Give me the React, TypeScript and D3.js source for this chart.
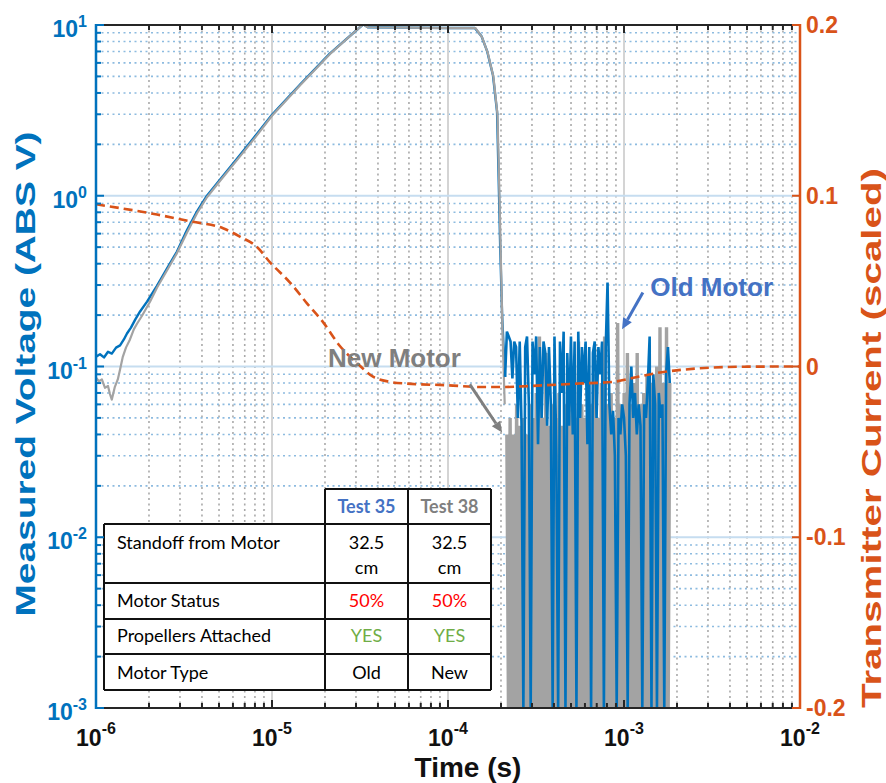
import React from "react";
import * as d3 from "d3";

const BLUE = "#0072BD";
const ORANGE = "#D95319";
const GRAY = "#A3A3A3";
const LABEL_BLUE = "#4472C4";
const LABEL_GRAY = "#7F7F7F";
const AXIS_FONT = "'Liberation Sans', Arial, Helvetica, sans-serif";
const TABLE_FONT = "Lato, 'Open Sans', sans-serif";

// Axis tick definitions
const xTickExps = [-6, -5, -4, -3, -2];
const yTickExps = [-3, -2, -1, 0, 1];
const y2Ticks = [-0.2, -0.1, 0, 0.1, 0.2];
const y2TickLabels = ["-0.2", "-0.1", "0", "0.1", "0.2"];

// Old motor (Test 35), smooth part: [time s, |V|]
const oldMotorSmooth: [number, number][] = [
  [1.0e-6, 0.114], [1.054e-6, 0.118], [1.11e-6, 0.113], [1.17e-6, 0.122], [1.23e-6, 0.119],
  [1.3e-6, 0.129], [1.37e-6, 0.133], [1.44e-6, 0.144], [1.5e-6, 0.156], [1.58e-6, 0.169],
  [1.67e-6, 0.188], [1.78e-6, 0.21], [1.95e-6, 0.24], [2.22e-6, 0.297], [2.53e-6, 0.374],
  [2.88e-6, 0.47], [3.29e-6, 0.63], [3.75e-6, 0.81], [4.27e-6, 1.0], [5.06e-6, 1.24],
  [6.58e-6, 1.73], [8.1e-6, 2.26], [1.0e-5, 2.98], [1.44e-5, 4.47], [2.13e-5, 6.8],
  [3.3e-5, 10.1], [3.5e-5, 9.7], [6e-5, 9.65], [1.0e-4, 9.6], [1.42e-4, 9.6],
  [1.55e-4, 8.6], [1.67e-4, 7.0], [1.8e-4, 5.1], [1.9e-4, 3.1], [1.95e-4, 1.0],
  [1.98e-4, 0.5], [2.03e-4, 0.2], [2.07e-4, 0.13], [2.11e-4, 0.087],
];

// Old motor noisy tail, samples between these times
const oldNoiseStart = 2.11e-4;
const oldNoiseEnd = 1.82e-3;
const oldMotorNoise = [
  0.087, 0.16, 0.15, 0.14, 0.085, 0.14, 0.13, 0.05, 0.14, 0.045,
  0.001, 0.13, 0.15, 0.06, 0.001, 0.14, 0.09, 0.15, 0.035, 0.13,
  0.05, 0.14, 0.12, 0.045, 0.13, 0.06, 0.001, 0.15, 0.03, 0.001,
  0.14, 0.07, 0.16, 0.001, 0.12, 0.045, 0.15, 0.04, 0.14, 0.001,
  0.16, 0.05, 0.13, 0.08, 0.14, 0.035, 0.13, 0.001, 0.12, 0.14,
  0.05, 0.13, 0.09, 0.14, 0.001, 0.13, 0.31, 0.06, 0.04, 0.055,
  0.03, 0.001, 0.05, 0.04, 0.06, 0.05, 0.03, 0.001, 0.06, 0.1,
  0.05, 0.07, 0.04, 0.06, 0.045, 0.001, 0.06, 0.05, 0.08, 0.15,
  0.001, 0.09, 0.06, 0.001, 0.07, 0.05, 0.06, 0.001, 0.09, 0.13,
  0.08,
];

// New motor (Test 38), smooth part
const newMotorSmooth: [number, number][] = [
  [1.0e-6, 0.086], [1.04e-6, 0.082], [1.08e-6, 0.084], [1.125e-6, 0.075], [1.17e-6, 0.077],
  [1.2e-6, 0.069], [1.23e-6, 0.064], [1.28e-6, 0.076], [1.33e-6, 0.084], [1.37e-6, 0.096],
  [1.42e-6, 0.114], [1.48e-6, 0.129], [1.56e-6, 0.144], [1.64e-6, 0.165], [1.71e-6, 0.178],
  [1.83e-6, 0.199], [2.03e-6, 0.24], [2.22e-6, 0.289], [2.53e-6, 0.365], [2.88e-6, 0.46],
  [3.29e-6, 0.61], [3.75e-6, 0.79], [4.27e-6, 0.98], [5.06e-6, 1.22], [6.58e-6, 1.7],
  [8.1e-6, 2.22], [1.0e-5, 2.94], [1.44e-5, 4.42], [2.13e-5, 6.75], [3.3e-5, 10.1],
  [3.5e-5, 9.7], [6e-5, 9.65], [1.0e-4, 9.6], [1.43e-4, 9.6], [1.56e-4, 8.5],
  [1.68e-4, 6.9], [1.81e-4, 5.0], [1.91e-4, 3.0], [1.96e-4, 1.0], [1.99e-4, 0.5],
  [2.03e-4, 0.2], [2.05e-4, 0.135], [2.1e-4, 0.06],
];

const newNoiseStart = 2.16e-4;
const newNoiseEnd = 1.82e-3;
const newMotorNoise = [
  0.04, 0.0009, 0.05, 0.0009, 0.04, 0.0009, 0.06, 0.0009, 0.045, 0.0009,
  0.05, 0.0009, 0.04, 0.0009, 0.06, 0.0009, 0.05, 0.0009, 0.07, 0.0009,
  0.15, 0.0009, 0.05, 0.0009, 0.12, 0.0009, 0.045, 0.0009, 0.06, 0.0009,
  0.05, 0.0009, 0.07, 0.0009, 0.045, 0.0009, 0.06, 0.0009, 0.05, 0.0009,
  0.08, 0.0009, 0.05, 0.0009, 0.14, 0.0009, 0.06, 0.0009, 0.05, 0.0009,
  0.07, 0.0009, 0.06, 0.0009, 0.09, 0.0009, 0.05, 0.0009, 0.08, 0.0009,
  0.15, 0.0009, 0.06, 0.0009, 0.07, 0.0009, 0.05, 0.0009, 0.18, 0.0009,
  0.06, 0.0009, 0.07, 0.0009, 0.12, 0.0009, 0.06, 0.0009, 0.08, 0.0009,
  0.12, 0.0009, 0.06, 0.0009, 0.07, 0.0009, 0.09, 0.0009, 0.08, 0.0009,
  0.07, 0.0009, 0.1, 0.0009, 0.17, 0.0009, 0.08, 0.0009, 0.17, 0.0009,
  0.08,
];

// Transmitter current (scaled), right axis
const currentSeries: [number, number][] = [
  [1e-6, 0.095], [2.22e-6, 0.089], [3.42e-6, 0.085], [5.27e-6, 0.081], [6.58e-6, 0.076],
  [8.22e-6, 0.07], [9.75e-6, 0.061], [1.27e-5, 0.049], [1.58e-5, 0.037], [1.95e-5, 0.026],
  [2.43e-5, 0.012], [3.04e-5, 0.002], [3.75e-5, -0.006], [4.68e-5, -0.009], [5.85e-5, -0.01],
  [1.0e-4, -0.011], [1.52e-4, -0.012], [2.05e-4, -0.012], [3.5e-4, -0.011], [5.5e-4, -0.01],
  [8.66e-4, -0.009], [1.2e-3, -0.006], [1.6e-3, -0.0035], [2.2e-3, -0.0018], [3.2e-3, -0.0006],
  [5e-3, -0.0001], [1e-2, 0],
];

// Table content
const tableHeaders = ["Test 35", "Test 38"];
const tableRowLabels = ["Standoff from Motor", "Motor Status", "Propellers Attached", "Motor Type"];
const tableCol1 = [["32.5", "cm"], ["50%"], ["YES"], ["Old"]];
const tableCol2 = [["32.5", "cm"], ["50%"], ["YES"], ["New"]];

// Annotation anchors in data coordinates [time, V]
const oldLabelAt: [number, number] = [1.41e-3, 0.26];
const oldArrowFrom: [number, number] = [1.28e-3, 0.271];
const oldArrowTo: [number, number] = [9.75e-4, 0.165];
const newLabelAt: [number, number] = [2.08e-5, 0.1];
const newArrowFrom: [number, number] = [1.33e-4, 0.0785];
const newArrowTo: [number, number] = [2.03e-4, 0.041];

function spreadNoise(t0: number, t1: number, vals: number[]): [number, number][] {
  return vals.map((v, i) => [t0 * Math.pow(t1 / t0, i / (vals.length - 1)), v]);
}

function Arrow({ x1, y1, x2, y2, color }: any) {
  const ang = Math.atan2(y2 - y1, x2 - x1);
  const L = 11, Wd = 5;
  const bx = x2 - L * Math.cos(ang), by = y2 - L * Math.sin(ang);
  const px = -Math.sin(ang) * Wd, py = Math.cos(ang) * Wd;
  return (
    <g>
      <line x1={x1} y1={y1} x2={bx} y2={by} stroke={color} strokeWidth={3} />
      <polygon points={`${x2},${y2} ${bx + px},${by + py} ${bx - px},${by - py}`} fill={color} />
    </g>
  );
}

export default function App() {
  const L = 96, R = 800, T = 25, B = 708;
  const x = d3.scaleLog().domain([1e-6, 1e-2]).range([L, R]);
  const y = d3.scaleLog().domain([1e-3, 10]).range([B, T]);
  const y2 = d3.scaleLinear().domain([-0.2, 0.2]).range([B, T]);

  const line = d3
    .line<[number, number]>()
    .x((d) => x(d[0]))
    .y((d) => y(Math.max(d[1], 5e-4)));
  const currentLine = d3
    .line<[number, number]>()
    .x((d) => x(d[0]))
    .y((d) => y2(d[1]))
    .curve(d3.curveMonotoneX);

  const isMajor = (v: number) => Math.abs(Math.log10(v) - Math.round(Math.log10(v))) < 1e-6;
  const xTicks = x.ticks();
  const yTicks = y.ticks();

  const oldNoise = spreadNoise(oldNoiseStart, oldNoiseEnd, oldMotorNoise);
  const newNoise = spreadNoise(newNoiseStart, newNoiseEnd, newMotorNoise);

  const colX = [104, 325, 408, 491];
  const rowY = [489, 524, 583, 619, 654, 690];
  const cellColor = (r: number) => {
    if (r === 1) return "#FF0000";
    if (r === 2) return "#70AD47";
    return "#000";
  };

  return (
    <svg width={886} height={783} style={{ position: "absolute", left: 0, top: 0, background: "#fff" }}>
      <defs>
        <clipPath id="plot">
          <rect x={L} y={T} width={R - L} height={B - T} />
        </clipPath>
      </defs>
      <rect x={0} y={0} width={886} height={783} fill="#fff" />

      {/* grid */}
      <g>
        {xTicks.filter((t) => !isMajor(t)).map((t, i) => (
          <line key={"xm" + i} x1={x(t)} x2={x(t)} y1={T} y2={B} stroke="#A9A9A9" strokeWidth={1.6} strokeDasharray="2,3.5" />
        ))}
        {yTicks.filter((t) => !isMajor(t)).map((t, i) => (
          <line key={"ym" + i} x1={L} x2={R} y1={y(t)} y2={y(t)} stroke="#8DBBE0" strokeWidth={1.6} strokeDasharray="2,3.5" />
        ))}
        {xTicks.filter((t) => isMajor(t)).map((t, i) => (
          <line key={"xM" + i} x1={x(t)} x2={x(t)} y1={T} y2={B} stroke="#D4D4D4" strokeWidth={2} />
        ))}
        {yTicks.filter((t) => isMajor(t)).map((t, i) => (
          <line key={"yM" + i} x1={L} x2={R} y1={y(t)} y2={y(t)} stroke="#C6DDF0" strokeWidth={2} />
        ))}
      </g>

      {/* data */}
      <g clipPath="url(#plot)">
        <path d={line(oldMotorSmooth) || ""} fill="none" stroke={BLUE} strokeWidth={2.4} strokeLinejoin="round" />
        <path d={line(newMotorSmooth) || ""} fill="none" stroke={GRAY} strokeWidth={2.2} strokeLinejoin="round" />
        <path d={line(newNoise) || ""} fill="none" stroke={GRAY} strokeWidth={3.4} strokeLinejoin="miter" />
        <path d={line(oldNoise) || ""} fill="none" stroke={BLUE} strokeWidth={2.6} strokeLinejoin="miter" />
        <path d={currentLine(currentSeries) || ""} fill="none" stroke={ORANGE} strokeWidth={2.6} strokeDasharray="9,5" />
      </g>

      {/* table */}
      <g fontFamily={TABLE_FONT} fontSize={18}>
        <rect x={colX[1]} y={rowY[0]} width={colX[3] - colX[1]} height={rowY[1] - rowY[0]} fill="#fff" />
        <rect x={colX[0]} y={rowY[1]} width={colX[3] - colX[0]} height={rowY[5] - rowY[1]} fill="#fff" />
        {rowY.slice(1).map((ry, i) => (
          <line key={"tr" + i} x1={colX[0]} x2={colX[3]} y1={ry} y2={ry} stroke="#111" strokeWidth={2} />
        ))}
        <line x1={colX[1]} x2={colX[3]} y1={rowY[0]} y2={rowY[0]} stroke="#111" strokeWidth={2} />
        <line x1={colX[0]} x2={colX[0]} y1={rowY[1]} y2={rowY[5]} stroke="#111" strokeWidth={2} />
        {colX.slice(1).map((cx, i) => (
          <line key={"tc" + i} x1={cx} x2={cx} y1={rowY[0]} y2={rowY[5]} stroke="#111" strokeWidth={2} />
        ))}
        <text x={(colX[1] + colX[2]) / 2} y={513} textAnchor="middle" fontWeight="bold" fill={LABEL_BLUE}>{tableHeaders[0]}</text>
        <text x={(colX[2] + colX[3]) / 2} y={513} textAnchor="middle" fontWeight="bold" fill={LABEL_GRAY}>{tableHeaders[1]}</text>
        {tableRowLabels.map((lab, r) => {
          const base = [549, 607, 642, 679][r];
          return (
            <g key={"row" + r}>
              <text x={117} y={base} fill="#000">{lab}</text>
              {tableCol1[r].map((s, k) => (
                <text key={"a" + k} x={(colX[1] + colX[2]) / 2} y={base + k * 25} textAnchor="middle" fill={cellColor(r)}>{s}</text>
              ))}
              {tableCol2[r].map((s, k) => (
                <text key={"b" + k} x={(colX[2] + colX[3]) / 2} y={base + k * 25} textAnchor="middle" fill={cellColor(r)}>{s}</text>
              ))}
            </g>
          );
        })}
      </g>

      {/* annotations */}
      <text x={x(oldLabelAt[0])} y={y(oldLabelAt[1])} fontFamily={AXIS_FONT} fontWeight="bold" fontSize={26} fill={LABEL_BLUE}>Old Motor</text>
      <Arrow x1={x(oldArrowFrom[0])} y1={y(oldArrowFrom[1])} x2={x(oldArrowTo[0])} y2={y(oldArrowTo[1])} color={LABEL_BLUE} />
      <text x={x(newLabelAt[0])} y={y(newLabelAt[1])} fontFamily={AXIS_FONT} fontWeight="bold" fontSize={26} fill={LABEL_GRAY}>New Motor</text>
      <Arrow x1={x(newArrowFrom[0])} y1={y(newArrowFrom[1])} x2={x(newArrowTo[0])} y2={y(newArrowTo[1])} color={LABEL_GRAY} />

      {/* axes */}
      <g>
        <line x1={L} x2={R} y1={T} y2={T} stroke="#262626" strokeWidth={2} />
        <line x1={L} x2={R} y1={B} y2={B} stroke="#262626" strokeWidth={2} />
        {xTicks.map((t, i) => {
          const len = isMajor(t) ? 8 : 5;
          return (
            <g key={"xt" + i}>
              <line x1={x(t)} x2={x(t)} y1={T} y2={T + len} stroke="#262626" strokeWidth={2} />
              <line x1={x(t)} x2={x(t)} y1={B} y2={B - len} stroke="#262626" strokeWidth={2} />
            </g>
          );
        })}
        <line x1={L} x2={L} y1={T - 1} y2={B + 1} stroke={BLUE} strokeWidth={2.5} />
        {yTicks.map((t, i) => {
          const len = isMajor(t) ? 8 : 5;
          return <line key={"yt" + i} x1={L} x2={L + len} y1={y(t)} y2={y(t)} stroke={BLUE} strokeWidth={2} />;
        })}
        <line x1={R} x2={R} y1={T - 1} y2={B + 1} stroke={ORANGE} strokeWidth={2.5} />
        {y2Ticks.map((t, i) => (
          <line key={"y2t" + i} x1={R} x2={R - 8} y1={y2(t)} y2={y2(t)} stroke={ORANGE} strokeWidth={2} />
        ))}
      </g>

      {/* tick labels */}
      <g fontFamily={AXIS_FONT} fontWeight="bold">
        {yTickExps.map((e) => (
          <text key={"yl" + e} x={87} y={y(Math.pow(10, e)) + 12} textAnchor="end" fontSize={23} fill={BLUE}>
            10<tspan dy={-10} fontSize={16}>{e}</tspan>
          </text>
        ))}
        {xTickExps.map((e) => (
          <text key={"xl" + e} x={x(Math.pow(10, e))} y={746} textAnchor="middle" fontSize={23} fill="#111">
            10<tspan dy={-12} fontSize={16}>{e}</tspan>
          </text>
        ))}
        {y2Ticks.map((t, i) => (
          <text key={"y2l" + i} x={806} y={y2(t) + 8} fontSize={23} fill={ORANGE}>{y2TickLabels[i]}</text>
        ))}
      </g>

      {/* axis titles */}
      <g fontFamily={AXIS_FONT} fontWeight="bold">
        <text x={468} y={777} textAnchor="middle" fontSize={28} fill="#111">Time (s)</text>
        <text transform="translate(35,374) rotate(-90)" textAnchor="middle" fontSize={27} fill={BLUE}
          textLength={485} lengthAdjust="spacingAndGlyphs">Measured Voltage (ABS V)</text>
        <text transform="translate(881,438) rotate(-90)" textAnchor="middle" fontSize={27} fill={ORANGE}
          textLength={540} lengthAdjust="spacingAndGlyphs">Transmitter Current (scaled)</text>
      </g>
    </svg>
  );
}
